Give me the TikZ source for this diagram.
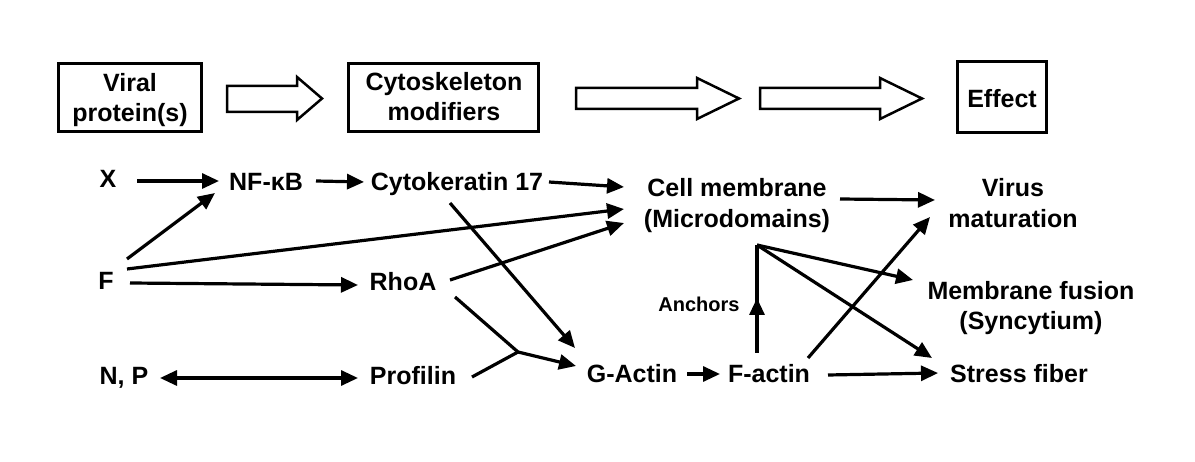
\documentclass[tikz,border=0pt]{standalone}
\usepackage{fontspec}
\setmainfont{Liberation Sans}
\usetikzlibrary{arrows.meta}
\begin{document}
\begin{tikzpicture}[x=1pt,y=-1pt,
  lbl/.style={inner sep=0pt, anchor=base, font=\bfseries\fontsize{25}{30}\selectfont},
  smalllbl/.style={inner sep=0pt, anchor=base, font=\bfseries\fontsize{20}{24}\selectfont},
  box/.style={draw, line width=3pt, inner sep=0pt},
  conn/.style={line width=3.2pt},
  arr/.style={conn, -{Triangle[length=17pt,width=15pt]}},
  darr/.style={conn, {Triangle[length=17pt,width=15pt]}-{Triangle[length=17pt,width=15pt]}},
  blockarrow/.style={draw, line width=2.5pt, fill=white, line join=miter}]
\fill[white] (0,0) rectangle (1195,462);
\useasboundingbox (0,0) rectangle (1195,462);

% top row
\node[box, minimum width=143pt, minimum height=68pt] (b1) at (130,97.5) {};
\node[lbl] (b1a) at (130,92) {Viral};
\node[lbl] (b1b) at (130,122) {protein(s)};
\node[box, minimum width=190pt, minimum height=68pt] (b2) at (443.5,97.5) {};
\node[lbl] (b2a) at (444,91) {Cytoskeleton};
\node[lbl] (b2b) at (444,121) {modifiers};
\node[box, minimum width=89pt, minimum height=71pt] (b3) at (1002,97) {};
\node[lbl] (b3a) at (1002,108) {Effect};

\draw[blockarrow] (227,86) -- (297,86) -- (297,77) -- (322,98.5) -- (297,120) -- (297,112) -- (227,112) -- cycle;
\draw[blockarrow] (576,88) -- (697,88) -- (697,78) -- (739,98.5) -- (697,119) -- (697,109) -- (576,109) -- cycle;
\draw[blockarrow] (760,88) -- (880,88) -- (880,78) -- (922,98.5) -- (880,119) -- (880,109) -- (760,109) -- cycle;

% labels
\node[lbl] (x) at (108,188) {X};
\node[lbl] (nf) at (266,191) {NF-κB};
\node[lbl] (ck) at (457,191) {Cytokeratin 17};
\node[lbl] (cm) at (737,197) {Cell membrane};
\node[lbl] (cm2) at (737,228) {(Microdomains)};
\node[lbl] (vm) at (1013,197) {Virus};
\node[lbl] (vm2) at (1013,228) {maturation};
\node[lbl] (f) at (106,290) {F};
\node[lbl] (rho) at (403,291) {RhoA};
\node[lbl] (mf) at (1031,300) {Membrane fusion};
\node[lbl] (mf2) at (1031,330) {(Syncytium)};
\node[smalllbl] (anc) at (699,312) {Anchors};
\node[lbl] (np) at (124,385) {N, P};
\node[lbl] (pro) at (413,385) {Profilin};
\node[lbl] (ga) at (632,383) {G-Actin};
\node[lbl] (fa) at (769,383) {F-actin};
\node[lbl] (sf) at (1019,383) {Stress fiber};

\coordinate (jn) at (518,352);
\coordinate (apex) at (757,245);

% connectors
\draw[arr] ([shift={(29,-7)}]x.base) -- ([shift={(-47,-10)}]nf.base);
\draw[arr] ([shift={(50,-10)}]nf.base) -- ([shift={(-93,-9)}]ck.base);
\draw[arr] ([shift={(92,-9)}]ck.base) -- ([shift={(-113,-10)}]cm.base);
\draw[arr] ([shift={(21,-31)}]f.base) -- ([shift={(-51,2)}]nf.base);
\draw[arr] ([shift={(21,-21)}]f.base) -- ([shift={(-113,12)}]cm.base);
\draw[arr] ([shift={(24,-7)}]f.base) -- ([shift={(-45,-6)}]rho.base);
\draw[arr] ([shift={(47,-11)}]rho.base) -- ([shift={(-113,26)}]cm.base);
\draw[arr] ([shift={(-7,12)}]ck.base) -- ([shift={(-57,-35)}]ga.base);
\draw[conn] ([shift={(52,6)}]rho.base) -- (jn);
\draw[conn] ([shift={(59,-8)}]pro.base) -- (jn);
\draw[arr] (jn) -- ([shift={(-56,-17)}]ga.base);
\draw[darr] ([shift={(36,-7)}]np.base) -- ([shift={(-55,-7)}]pro.base);
\draw[arr] ([shift={(55,-9)}]ga.base) -- ([shift={(-49,-9)}]fa.base);
\draw[arr] ([shift={(-12,-30)}]fa.base) -- ([shift={(-12,-85)}]fa.base);
\draw[conn] ([shift={(-12,-80)}]fa.base) -- (apex);
\draw[arr] (apex) -- ([shift={(-118,-20)}]mf.base);
\draw[arr] (apex) -- ([shift={(-87,-25)}]sf.base);
\draw[arr] ([shift={(39,-25)}]fa.base) -- ([shift={(-83,-11)}]vm2.base);
\draw[arr] ([shift={(103,2)}]cm.base) -- ([shift={(-78,3)}]vm.base);
\draw[arr] ([shift={(59,-8)}]fa.base) -- ([shift={(-81,-10)}]sf.base);
\end{tikzpicture}
\end{document}
